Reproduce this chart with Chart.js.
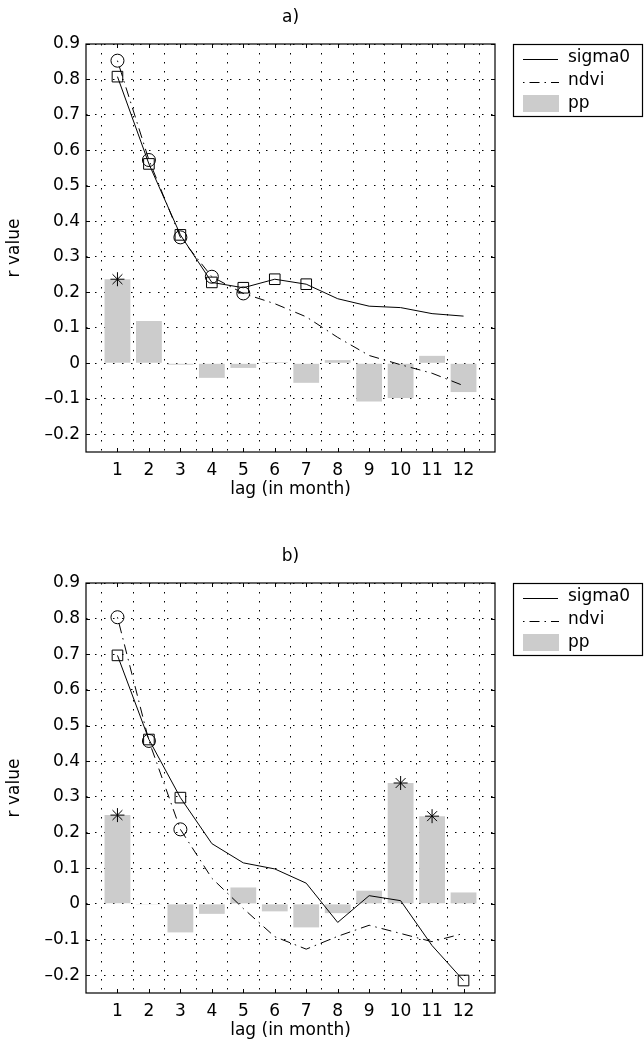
<!DOCTYPE html>
<html>
<head>
<meta charset="utf-8">
<script src="https://cdn.jsdelivr.net/npm/chart.js@4/dist/chart.umd.min.js"></script>
<style>
  html, body { margin: 0; padding: 0; background: #fff; overflow: hidden; }
  canvas { position: absolute; left: 0; }
  #panelA { top: 0; }
  #panelB { top: 539px; }
</style>
</head>
<body>
<canvas id="panelA" width="644" height="510"></canvas>
<canvas id="panelB" width="644" height="508"></canvas>
<script>
// lags (x categories) and y tick labels
const lags = [1, 2, 3, 4, 5, 6, 7, 8, 9, 10, 11, 12];
const yTicks = [-0.2, -0.1, 0, 0.1, 0.2, 0.3, 0.4, 0.5, 0.6, 0.7, 0.8, 0.9];

// a)
const sigmaA = [0.808, 0.562, 0.362, 0.228, 0.213, 0.237, 0.223, 0.182, 0.161, 0.157, 0.140, 0.133];
const ndviA = [0.853, 0.573, 0.355, 0.244, 0.197, 0.168, 0.131, 0.073, 0.022, -0.004, -0.028, -0.063];
const ppA = [0.237, 0.119, -0.004, -0.041, -0.013, 0.003, -0.055, 0.009, -0.108, -0.098, 0.021, -0.081];
const sigmaMarkA = [1, 2, 3, 4, 5, 6, 7];
const ndviMarkA = [1, 2, 3, 4, 5];
const ppMarkA = [1];

// b)
const sigmaB = [0.697, 0.461, 0.298, 0.169, 0.115, 0.098, 0.058, -0.052, 0.023, 0.009, -0.117, -0.215];
const ndviB = [0.804, 0.457, 0.209, 0.072, -0.013, -0.092, -0.127, -0.091, -0.060, -0.083, -0.106, -0.083];
const ppB = [0.249, -0.002, -0.080, -0.028, 0.046, -0.021, -0.066, -0.026, 0.037, 0.339, 0.246, 0.032];
const sigmaMarkB = [1, 2, 3, 12];
const ndviMarkB = [1, 2, 3];
const ppMarkB = [1, 10, 11];

const FONT = "'DejaVu Sans', 'Liberation Sans', sans-serif";
Chart.defaults.font.family = FONT;
Chart.defaults.font.size = 17;
Chart.defaults.color = '#000';

// box, inward ticks, title and legend, drawn like the matlab figure
const framePlugin = {
    id: 'frame',
    afterDraw(chart, args, opts) {
        const ctx = chart.ctx;
        const a = chart.chartArea;
        const xs = chart.scales.x, ys = chart.scales.y;
        ctx.save();
        ctx.strokeStyle = '#000';
        ctx.lineWidth = 1.2;
        ctx.strokeRect(a.left, a.top, a.right - a.left, a.bottom - a.top);
        ctx.lineWidth = 1;
        ctx.beginPath();
        lags.forEach(function (l) {
            const px = Math.round(xs.getPixelForValue(l)) + 0.5;
            ctx.moveTo(px, a.bottom); ctx.lineTo(px, a.bottom - 4);
            ctx.moveTo(px, a.top); ctx.lineTo(px, a.top + 4);
        });
        yTicks.forEach(function (v) {
            const py = Math.round(ys.getPixelForValue(v)) + 0.5;
            ctx.moveTo(a.left, py); ctx.lineTo(a.left + 4, py);
            ctx.moveTo(a.right, py); ctx.lineTo(a.right - 4, py);
        });
        ctx.stroke();

        // panel title
        ctx.font = '17px ' + FONT;
        ctx.fillStyle = '#000';
        ctx.textAlign = 'center';
        ctx.textBaseline = 'middle';
        ctx.fillText(opts.title, (a.left + a.right) / 2, a.top - 26);

        // legend
        const bx = a.right + 18, by = a.top, bw = 130, bh = 73;
        ctx.fillStyle = '#fff';
        ctx.fillRect(bx, by, bw, bh);
        ctx.strokeStyle = '#000';
        ctx.lineWidth = 1.2;
        ctx.strokeRect(bx + 0.5, by + 0.5, bw - 1, bh - 1);
        ctx.lineWidth = 1;
        ctx.beginPath();
        ctx.moveTo(bx + 10, by + 15.5); ctx.lineTo(bx + 45, by + 15.5);
        ctx.stroke();
        ctx.setLineDash([1.5, 5, 10, 5]);
        ctx.beginPath();
        ctx.moveTo(bx + 10, by + 38.5); ctx.lineTo(bx + 46, by + 38.5);
        ctx.stroke();
        ctx.setLineDash([]);
        ctx.fillStyle = '#cccccc';
        ctx.fillRect(bx + 10, by + 51, 36, 17);
        ctx.fillStyle = '#000';
        ctx.textAlign = 'left';
        ctx.fillText('sigma0', bx + 55, by + 14);
        ctx.fillText('ndvi', bx + 55, by + 37);
        ctx.fillText('pp', bx + 55, by + 60);
        ctx.restore();
    }
};

function pts(vals) {
    return lags.map(function (l, i) { return { x: l, y: vals[i] }; });
}

function makePanel(id, title, sigma, ndvi, pp, sigmaMark, ndviMark, ppMark, axisH) {
    const ctx = document.getElementById(id).getContext('2d');
    return new Chart(ctx, {
        type: 'line',
        data: {
            datasets: [
                {
                    label: 'sigma0',
                    data: pts(sigma),
                    borderColor: '#000',
                    borderWidth: 1,
                    pointStyle: 'rect',
                    pointRadius: function (c) { return sigmaMark.includes(lags[c.dataIndex]) ? 7.5 : 0; },
                    pointBackgroundColor: 'rgba(0,0,0,0)',
                    pointBorderColor: '#000',
                    pointBorderWidth: 1,
                    tension: 0,
                    order: 1,
                },
                {
                    label: 'ndvi',
                    data: pts(ndvi),
                    borderColor: '#000',
                    borderWidth: 1,
                    borderDash: [1.5, 5, 10, 5],
                    pointStyle: 'circle',
                    pointRadius: function (c) { return ndviMark.includes(lags[c.dataIndex]) ? 6.5 : 0; },
                    pointBackgroundColor: 'rgba(0,0,0,0)',
                    pointBorderColor: '#000',
                    pointBorderWidth: 1,
                    tension: 0,
                    order: 2,
                },
                {
                    label: 'pp*',
                    type: 'scatter',
                    data: ppMark.map(function (l) { return { x: l, y: pp[l - 1] }; }),
                    pointStyle: 'star',
                    pointRadius: 7,
                    borderColor: '#000',
                    borderWidth: 1,
                    showLine: false,
                    order: 0,
                },
                {
                    label: 'pp',
                    type: 'bar',
                    data: pts(pp),
                    backgroundColor: '#cccccc',
                    borderWidth: 0,
                    categoryPercentage: 1,
                    barPercentage: 0.82,
                    order: 3,
                },
            ],
        },
        options: {
            responsive: false,
            animation: false,
            events: [],
            layout: { padding: { top: 44, right: 149, left: 0, bottom: 0 } },
            plugins: {
                legend: { display: false },
                tooltip: { enabled: false },
                frame: { title: title },
            },
            scales: {
                x: {
                    type: 'linear',
                    min: 0,
                    max: 13,
                    offset: false,
                    afterFit: function (s) { s.height = axisH; },
                    afterBuildTicks: function (s) { s.ticks = lags.map(function (v) { return { value: v }; }); },
                    grid: { color: '#000', lineWidth: 1, drawTicks: false },
                    border: { display: false, dash: [1.5, 7.5] },
                    ticks: { padding: 8, callback: function (v) { return String(v); } },
                    title: { display: true, text: 'lag (in month)', padding: { top: axisH - 48.2, bottom: axisH - 48.2 } },
                },
                y: {
                    type: 'linear',
                    min: -0.25,
                    max: 0.9,
                    afterFit: function (s) { s.width = 86; },
                    afterBuildTicks: function (s) { s.ticks = yTicks.map(function (v) { return { value: v }; }); },
                    grid: { color: '#000', lineWidth: 1, drawTicks: false },
                    border: { display: false, dash: [1.5, 7.5] },
                    ticks: {
                        padding: 6,
                        callback: function (v) {
                            const s = Math.abs(v) < 1e-9 ? '0' : Math.abs(v).toFixed(1);
                            return v < -1e-9 ? '\u2013' + s : s;
                        },
                    },
                    title: { display: true, text: 'r value', padding: { top: 4, bottom: 4 } },
                },
            },
        },
        plugins: [framePlugin],
    });
}

makePanel('panelA', 'a)', sigmaA, ndviA, ppA, sigmaMarkA, ndviMarkA, ppMarkA, 58);
makePanel('panelB', 'b)', sigmaB, ndviB, ppB, sigmaMarkB, ndviMarkB, ppMarkB, 54);
</script>
</body>
</html>
